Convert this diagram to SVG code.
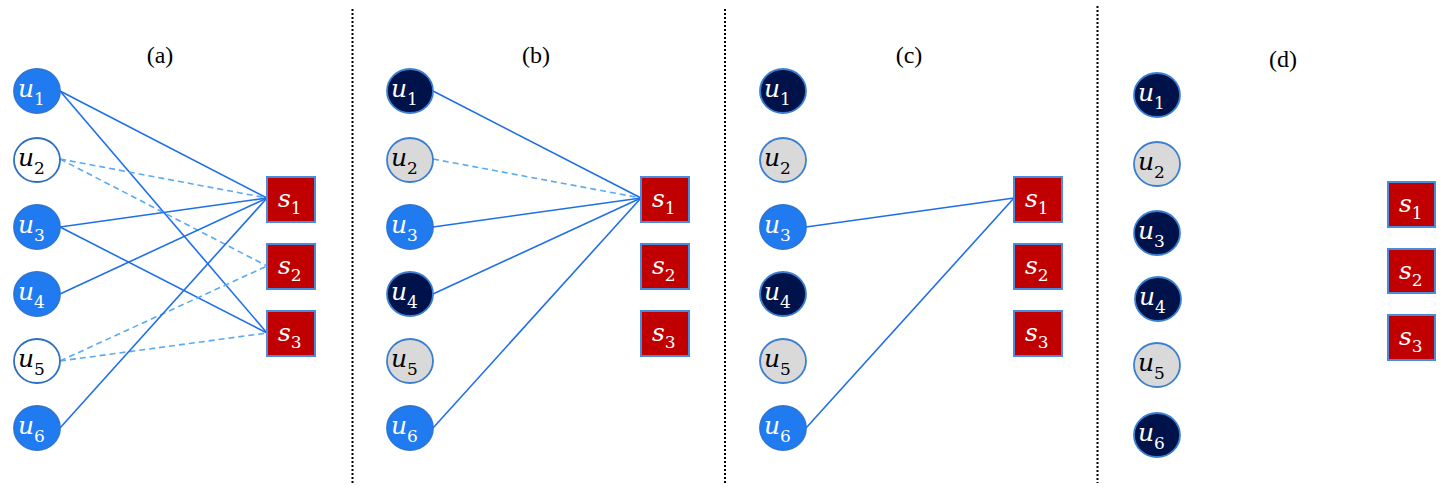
<svg xmlns="http://www.w3.org/2000/svg" width="1453" height="489" viewBox="0 0 1453 489">
<style>
.bg{fill:#ffffff}
.div{stroke:#000;stroke-width:2;stroke-dasharray:2 2;fill:none}
.title{font-family:"Liberation Serif",serif;font-size:24px;fill:#000;text-anchor:middle}
.cb{fill:#1f7bef;stroke:#2e75d6;stroke-width:1.8}
.cd{fill:#00124a;stroke:#3a7fd0;stroke-width:1.8}
.cg{fill:#d9d9d9;stroke:#3a7fd0;stroke-width:1.8}
.cw{fill:#ffffff;stroke:#2e6fc0;stroke-width:1.8}
.sq{fill:#c00000;stroke:#4a8be0;stroke-width:2}
.lab{font-family:"DejaVu Serif",serif;font-style:italic;font-size:25px}
.sub{font-style:normal;font-size:17px}
.lw{fill:#ffffff}
.lk{fill:#000000}
.e{stroke:#1f6fe8;stroke-width:1.6;fill:none}
.ed{stroke:#5aaaf2;stroke-width:1.6;stroke-dasharray:6 4;fill:none}
</style>
<rect class="bg" x="0" y="0" width="1453" height="489"/>
<g id="dividers">
<line class="div" x1="352.5" y1="9" x2="352.5" y2="483"/>
<line class="div" x1="725" y1="9" x2="725" y2="483"/>
<line class="div" x1="1097.5" y1="6" x2="1097.5" y2="483"/>
</g>
<g id="titles">
<text class="title" x="160" y="63">(a)</text>
<text class="title" x="536" y="63">(b)</text>
<text class="title" x="909" y="63">(c)</text>
<text class="title" x="1283" y="67">(d)</text>
</g>
<g id="connectors">
<line class="e" x1="60" y1="91" x2="267" y2="198"/>
<line class="e" x1="60" y1="91" x2="267" y2="333"/>
<line class="ed" x1="60" y1="159" x2="267" y2="198"/>
<line class="ed" x1="60" y1="159" x2="267" y2="266"/>
<line class="e" x1="60" y1="227" x2="267" y2="198"/>
<line class="e" x1="60" y1="227" x2="267" y2="333"/>
<line class="e" x1="60" y1="294" x2="267" y2="198"/>
<line class="ed" x1="60" y1="361" x2="267" y2="266"/>
<line class="ed" x1="60" y1="361" x2="267" y2="333"/>
<line class="e" x1="60" y1="428" x2="267" y2="198"/>
<line class="e" x1="433" y1="91" x2="641" y2="198"/>
<line class="ed" x1="433" y1="159" x2="641" y2="198"/>
<line class="e" x1="433" y1="227" x2="641" y2="198"/>
<line class="e" x1="433" y1="294" x2="641" y2="198"/>
<line class="e" x1="433" y1="428" x2="641" y2="198"/>
<line class="e" x1="806" y1="227" x2="1014" y2="198"/>
<line class="e" x1="806" y1="428" x2="1014" y2="198"/>
</g>
<g id="a-u1"><ellipse class="cb" cx="37" cy="91" rx="23" ry="22"/><text class="lab lw" x="18" y="97">u<tspan class="sub" dy="8">1</tspan></text></g>
<g id="a-u2"><ellipse class="cw" cx="37" cy="160" rx="23" ry="22"/><text class="lab lk" x="18" y="166">u<tspan class="sub" dy="8">2</tspan></text></g>
<g id="a-u3"><ellipse class="cb" cx="37" cy="227" rx="23" ry="22"/><text class="lab lw" x="18" y="233">u<tspan class="sub" dy="8">3</tspan></text></g>
<g id="a-u4"><ellipse class="cb" cx="37" cy="294" rx="23" ry="22"/><text class="lab lw" x="18" y="300">u<tspan class="sub" dy="8">4</tspan></text></g>
<g id="a-u5"><ellipse class="cw" cx="37" cy="361" rx="23" ry="22"/><text class="lab lk" x="18" y="367">u<tspan class="sub" dy="8">5</tspan></text></g>
<g id="a-u6"><ellipse class="cb" cx="37" cy="428" rx="23" ry="22"/><text class="lab lw" x="18" y="434">u<tspan class="sub" dy="8">6</tspan></text></g>
<g id="a-s1"><rect class="sq" x="267" y="177" width="48" height="45"/><text class="lab lw" x="278" y="207">s<tspan class="sub" dy="7">1</tspan></text></g>
<g id="a-s2"><rect class="sq" x="267" y="244" width="48" height="45"/><text class="lab lw" x="278" y="274">s<tspan class="sub" dy="7">2</tspan></text></g>
<g id="a-s3"><rect class="sq" x="267" y="311" width="48" height="45"/><text class="lab lw" x="278" y="341">s<tspan class="sub" dy="7">3</tspan></text></g>
<g id="b-u1"><ellipse class="cd" cx="410" cy="91" rx="23" ry="22"/><text class="lab lw" x="391" y="97">u<tspan class="sub" dy="8">1</tspan></text></g>
<g id="b-u2"><ellipse class="cg" cx="410" cy="160" rx="23" ry="22"/><text class="lab lk" x="391" y="166">u<tspan class="sub" dy="8">2</tspan></text></g>
<g id="b-u3"><ellipse class="cb" cx="410" cy="227" rx="23" ry="22"/><text class="lab lw" x="391" y="233">u<tspan class="sub" dy="8">3</tspan></text></g>
<g id="b-u4"><ellipse class="cd" cx="410" cy="294" rx="23" ry="22"/><text class="lab lw" x="391" y="300">u<tspan class="sub" dy="8">4</tspan></text></g>
<g id="b-u5"><ellipse class="cg" cx="410" cy="361" rx="23" ry="22"/><text class="lab lk" x="391" y="367">u<tspan class="sub" dy="8">5</tspan></text></g>
<g id="b-u6"><ellipse class="cb" cx="410" cy="428" rx="23" ry="22"/><text class="lab lw" x="391" y="434">u<tspan class="sub" dy="8">6</tspan></text></g>
<g id="b-s1"><rect class="sq" x="641" y="177" width="48" height="45"/><text class="lab lw" x="652" y="207">s<tspan class="sub" dy="7">1</tspan></text></g>
<g id="b-s2"><rect class="sq" x="641" y="244" width="48" height="45"/><text class="lab lw" x="652" y="274">s<tspan class="sub" dy="7">2</tspan></text></g>
<g id="b-s3"><rect class="sq" x="641" y="311" width="48" height="45"/><text class="lab lw" x="652" y="341">s<tspan class="sub" dy="7">3</tspan></text></g>
<g id="c-u1"><ellipse class="cd" cx="783" cy="91" rx="23" ry="22"/><text class="lab lw" x="764" y="97">u<tspan class="sub" dy="8">1</tspan></text></g>
<g id="c-u2"><ellipse class="cg" cx="783" cy="160" rx="23" ry="22"/><text class="lab lk" x="764" y="166">u<tspan class="sub" dy="8">2</tspan></text></g>
<g id="c-u3"><ellipse class="cb" cx="783" cy="227" rx="23" ry="22"/><text class="lab lw" x="764" y="233">u<tspan class="sub" dy="8">3</tspan></text></g>
<g id="c-u4"><ellipse class="cd" cx="783" cy="294" rx="23" ry="22"/><text class="lab lw" x="764" y="300">u<tspan class="sub" dy="8">4</tspan></text></g>
<g id="c-u5"><ellipse class="cg" cx="783" cy="361" rx="23" ry="22"/><text class="lab lk" x="764" y="367">u<tspan class="sub" dy="8">5</tspan></text></g>
<g id="c-u6"><ellipse class="cb" cx="783" cy="428" rx="23" ry="22"/><text class="lab lw" x="764" y="434">u<tspan class="sub" dy="8">6</tspan></text></g>
<g id="c-s1"><rect class="sq" x="1014" y="177" width="48" height="45"/><text class="lab lw" x="1025" y="207">s<tspan class="sub" dy="7">1</tspan></text></g>
<g id="c-s2"><rect class="sq" x="1014" y="244" width="48" height="45"/><text class="lab lw" x="1025" y="274">s<tspan class="sub" dy="7">2</tspan></text></g>
<g id="c-s3"><rect class="sq" x="1014" y="311" width="48" height="45"/><text class="lab lw" x="1025" y="341">s<tspan class="sub" dy="7">3</tspan></text></g>
<g id="d-u1"><ellipse class="cd" cx="1157" cy="95" rx="23" ry="22"/><text class="lab lw" x="1138" y="101">u<tspan class="sub" dy="8">1</tspan></text></g>
<g id="d-u2"><ellipse class="cg" cx="1157" cy="164" rx="23" ry="22"/><text class="lab lk" x="1138" y="170">u<tspan class="sub" dy="8">2</tspan></text></g>
<g id="d-u3"><ellipse class="cd" cx="1157" cy="233" rx="23" ry="22"/><text class="lab lw" x="1138" y="239">u<tspan class="sub" dy="8">3</tspan></text></g>
<g id="d-u4"><ellipse class="cd" cx="1158" cy="299" rx="23" ry="22"/><text class="lab lw" x="1139" y="305">u<tspan class="sub" dy="8">4</tspan></text></g>
<g id="d-u5"><ellipse class="cg" cx="1157" cy="365" rx="23" ry="22"/><text class="lab lk" x="1138" y="371">u<tspan class="sub" dy="8">5</tspan></text></g>
<g id="d-u6"><ellipse class="cd" cx="1157" cy="435" rx="23" ry="22"/><text class="lab lw" x="1138" y="441">u<tspan class="sub" dy="8">6</tspan></text></g>
<g id="d-s1"><rect class="sq" x="1388" y="182" width="47" height="45"/><text class="lab lw" x="1399" y="212">s<tspan class="sub" dy="7">1</tspan></text></g>
<g id="d-s2"><rect class="sq" x="1388" y="249" width="47" height="44"/><text class="lab lw" x="1399" y="279">s<tspan class="sub" dy="7">2</tspan></text></g>
<g id="d-s3"><rect class="sq" x="1388" y="315" width="47" height="45"/><text class="lab lw" x="1399" y="345">s<tspan class="sub" dy="7">3</tspan></text></g>
</svg>
